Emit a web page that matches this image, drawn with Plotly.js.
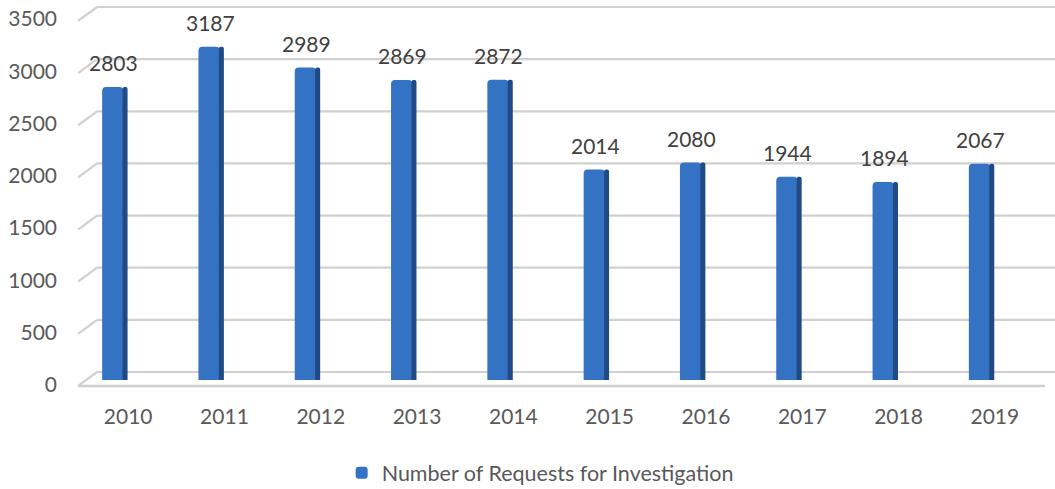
<!DOCTYPE html>
<html>
<head>
<meta charset="utf-8">
<script src="https://cdn.plot.ly/plotly-3.0.1.min.js"></script>
<style>html,body{margin:0;padding:0;background:#fff;}#chart{width:1055px;height:489px;}</style>
</head>
<body>
<div id="chart"></div>
<script>
const years = ['2010','2011','2012','2013','2014','2015','2016','2017','2018','2019'];
const requests = [2803, 3187, 2989, 2869, 2872, 2014, 2080, 1944, 1894, 2067];
const yTicks = [0, 500, 1000, 1500, 2000, 2500, 3000, 3500];
const seriesName = 'Number of Requests for Investigation';

const idx = years.map((_, i) => i);
const FONT = 'Lato, "Open Sans", sans-serif';
const depth = 134; // back-wall depth offset in wall-axis units
const xWallL = 0.0177, xFrontL = -0.002, xWallR = 1.0135, xFrontR = 1.002;

const front = {
  type: 'bar', x: idx, y: requests, name: seriesName,
  offset: -0.27, width: 0.222,
  marker: {color: '#3472c4', line: {width: 0}, cornerradius: 4},
  hoverinfo: 'skip', showlegend: true
};
const side = {
  type: 'bar', x: idx, y: requests, name: seriesName,
  offset: -0.058, width: 0.052,
  marker: {color: '#1f4a85', line: {width: 0}, cornerradius: 3},
  hoverinfo: 'skip', showlegend: false
};

const shapes = [];
yTicks.forEach(v => {
  shapes.push({type: 'line', layer: 'below', xref: 'paper', yref: 'y2',
    x0: xWallL, x1: xWallR, y0: v, y1: v, line: {color: '#d0d0d0', width: 2.2}});
  shapes.push({type: 'line', layer: 'below', xref: 'paper', yref: 'y2',
    x0: xFrontL, x1: xWallL, y0: v - depth, y1: v, line: {color: '#d0d0d0', width: 2.2}});
});
shapes.push({type: 'line', layer: 'below', xref: 'paper', yref: 'y2',
  x0: xFrontL, x1: xFrontR, y0: -depth, y1: -depth, line: {color: '#d0d0d0', width: 2.5}});

const annotations = requests.map((v, i) => ({
  xref: 'x', yref: 'y', x: i - 0.15, y: v, text: String(v),
  showarrow: false, yanchor: 'middle', yshift: 24,
  font: {family: FONT, size: 21, color: '#404040'}
}));

const layout = {
  width: 1055, height: 489,
  margin: {l: 80, r: 12, t: 5, b: 97, autoexpand: false},
  paper_bgcolor: '#ffffff', plot_bgcolor: 'rgba(0,0,0,0)',
  barmode: 'overlay',
  showlegend: true,
  legend: {orientation: 'h', xref: 'container', yref: 'container',
    x: 0.512, xanchor: 'center', y: 0.033, yanchor: 'middle',
    font: {family: FONT, size: 21.5, color: '#595959'}, itemwidth: 30},
  xaxis: {range: [-0.5, 9.5], tickvals: idx, ticktext: years, showgrid: false,
    zeroline: false, showline: false, ticks: '', ticklabelstandoff: 10,
    tickfont: {family: FONT, size: 21, color: '#595959'}, fixedrange: true},
  yaxis: {range: [-114.75, 3586.07], tickvals: yTicks, showgrid: false, zeroline: false,
    showline: false, ticks: '', ticklabelstandoff: 22, ticklabelshift: 5,
    ticklabeloverflow: 'allow',
    tickfont: {family: FONT, size: 21, color: '#595959'}, fixedrange: true},
  yaxis2: {overlaying: 'y', anchor: 'x', range: [-191.8, 3519.2], visible: false, fixedrange: true},
  shapes: shapes,
  annotations: annotations
};

Plotly.newPlot('chart', [front, side], layout, {displayModeBar: false, staticPlot: true});
</script>
</body>
</html>
